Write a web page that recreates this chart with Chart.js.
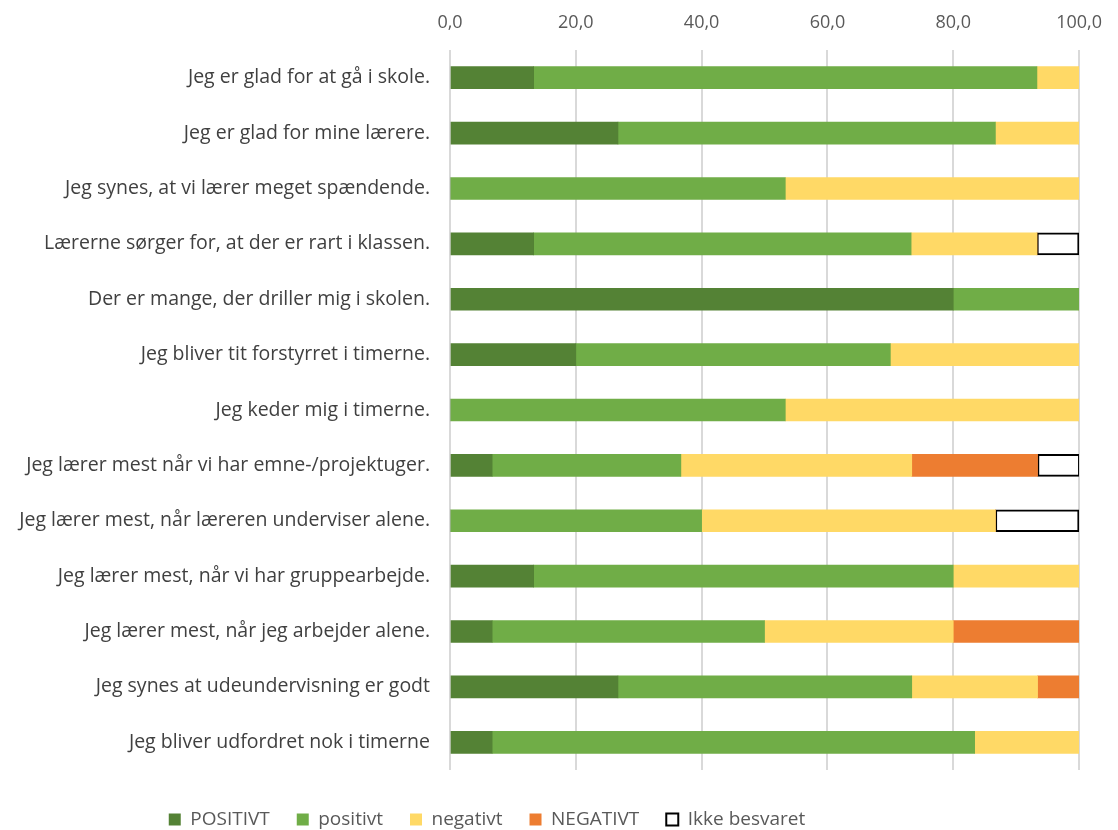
<!DOCTYPE html>
<html>
<head>
<meta charset="utf-8">
<script src="https://cdn.jsdelivr.net/npm/chart.js@4/dist/chart.umd.min.js"></script>
<style>
html,body{margin:0;padding:0;background:#fff;}
#wrap{width:1118px;height:830px;position:relative;}
</style>
</head>
<body>
<div id="wrap"><canvas id="c" width="1118" height="830"></canvas></div>
<script>
const categories = [
  "Jeg er glad for at gå i skole.",
  "Jeg er glad for mine lærere.",
  "Jeg synes, at vi lærer meget spændende.",
  "Lærerne sørger for, at der er rart i klassen.",
  "Der er mange, der driller mig i skolen.",
  "Jeg bliver tit forstyrret i timerne.",
  "Jeg keder mig i timerne.",
  "Jeg lærer mest når vi har emne-/projektuger.",
  "Jeg lærer mest, når læreren underviser alene.",
  "Jeg lærer mest, når vi har gruppearbejde.",
  "Jeg lærer mest, når jeg arbejder alene.",
  "Jeg synes at udeundervisning er godt",
  "Jeg bliver udfordret nok i timerne"
];
const POSITIVT   = [13.3, 26.7, 0, 13.3, 80, 20, 0, 6.7, 0, 13.3, 6.7, 26.7, 6.7];
const positivt   = [80, 60, 53.3, 60, 20, 50, 53.3, 30, 40, 66.7, 43.3, 46.7, 76.7];
const negativt   = [6.7, 13.3, 46.7, 20, 0, 30, 46.7, 36.7, 46.7, 20, 30, 20, 16.7];
const NEGATIVT   = [0, 0, 0, 0, 0, 0, 0, 20, 0, 0, 20, 6.7, 0];
const ikkeBesvaret = [0, 0, 0, 6.7, 0, 0, 0, 6.7, 13.3, 0, 0, 0, 0];
const xTicks = [0, 20, 40, 60, 80, 100];

const FONT = "'Open Sans', Lato, 'Liberation Sans', sans-serif";

const legendTweak = {
  id: 'legendTweak',
  beforeInit(chart) {
    const lg = chart.legend;
    if (!lg) return;
    const origFit = lg.fit.bind(lg);
    lg.fit = function () { origFit(); if (this.isHorizontal()) this.height = 60; };
    const origDraw = lg.draw.bind(lg);
    lg.draw = function () {
      const ctx = this.ctx;
      ctx.save();
      ctx.translate(-54, 13);
      origDraw();
      ctx.restore();
    };
  }
};

new Chart(document.getElementById('c'), {
  type: 'bar',
  data: {
    labels: categories,
    datasets: [
      {label:'POSITIVT', data:POSITIVT, backgroundColor:'#548235', borderWidth:0},
      {label:'positivt', data:positivt, backgroundColor:'#70AD47', borderWidth:0},
      {label:'negativt', data:negativt, backgroundColor:'#FFD966', borderWidth:0},
      {label:'NEGATIVT', data:NEGATIVT, backgroundColor:'#ED7D31', borderWidth:0},
      {label:'Ikke besvaret', data:ikkeBesvaret, backgroundColor:'#FFFFFF', borderColor:'#000000', borderWidth:2, borderSkipped:false}
    ]
  },
  plugins: [legendTweak],
  options: {
    indexAxis: 'y',
    responsive: false,
    animation: false,
    maintainAspectRatio: false,
    layout: {padding: {left: 0, right: 36, top: 0, bottom: 0}},
    datasets: {bar: {barThickness: 22}},
    scales: {
      x: {
        position: 'top',
        stacked: true,
        min: 0, max: 100,
        afterBuildTicks: s => { s.ticks = xTicks.map(v => ({value: v})); },
        afterFit: s => { s.height = 50; },
        grid: {color: '#d9d9d9', lineWidth: 2, drawTicks: false},
        border: {display: false},
        ticks: {
          padding: 16,
          color: '#595959',
          font: {family: FONT, size: 18},
          callback: v => v.toFixed(1).replace('.', ',')
        }
      },
      y: {
        stacked: true,
        afterFit: s => { s.width = 450; },
        grid: {display: false, drawTicks: false},
        border: {display: false},
        ticks: {
          padding: 20,
          color: '#404040',
          font: {family: FONT, size: 19.5}
        }
      }
    },
    plugins: {
      legend: {
        position: 'bottom',
        labels: {
          boxWidth: 12, boxHeight: 12,
          padding: 27,
          color: '#595959',
          font: {family: FONT, size: 19}
        }
      },
      tooltip: {enabled: false}
    }
  }
});
</script>
</body>
</html>
